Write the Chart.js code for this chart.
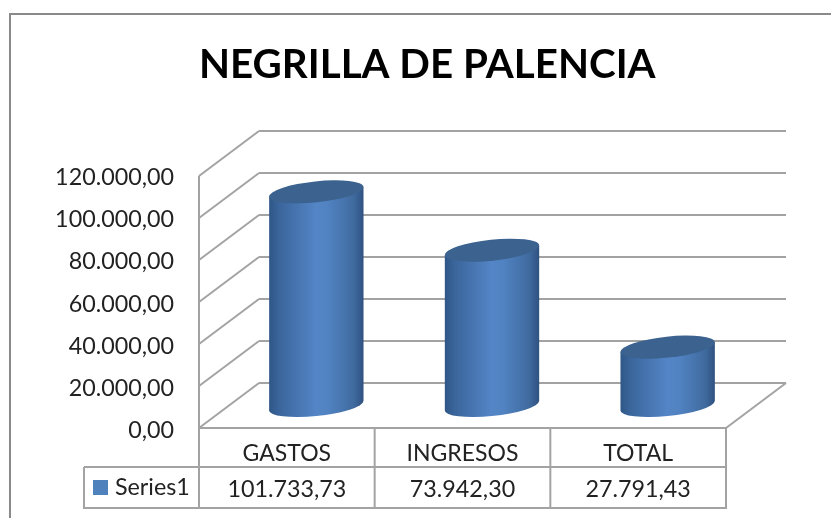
<!DOCTYPE html>
<html>
<head>
<meta charset="utf-8">
<title>Negrilla de Palencia</title>
<script src="https://cdn.jsdelivr.net/npm/chart.js@4"></script>
<style>
  body { margin: 0; background: #fff; }
  canvas { display: block; }
</style>
</head>
<body>
<canvas id="myChart" width="831" height="518"></canvas>
<script>
// data
const titleText = "NEGRILLA DE PALENCIA";
const seriesName = "Series1";
const categories = ["GASTOS", "INGRESOS", "TOTAL"];
const seriesValues = [101733.73, 73942.30, 27791.43];
const valueLabels = ["101.733,73", "73.942,30", "27.791,43"];
const yTickLabels = ["0,00", "20.000,00", "40.000,00", "60.000,00", "80.000,00", "100.000,00", "120.000,00"];

// look of the fake 3d box
const depthX = 60, depthY = 45;
const lineColor = "#a3a3a3";
const textColor = "#222222";
const textFont = "23.3px Lato";

function line(ctx, x1, y1, x2, y2) {
  ctx.beginPath();
  ctx.moveTo(x1, y1);
  ctx.lineTo(x2, y2);
  ctx.stroke();
}

// frame, back wall, side wall and floor
const wallsPlugin = {
  id: "walls",
  beforeDatasetsDraw(chart) {
    const ctx = chart.ctx, a = chart.chartArea, y = chart.scales.y;
    ctx.save();
    ctx.strokeStyle = "#8a8a8a";
    ctx.lineWidth = 2;
    line(ctx, 10, 14, 831, 14);
    line(ctx, 10, 13, 10, 518);

    ctx.strokeStyle = lineColor;
    y.ticks.forEach(t => {
      const py = y.getPixelForValue(t.value);
      line(ctx, a.left, py, a.left + depthX, py - depthY);
      line(ctx, a.left + depthX, py - depthY, a.right + depthX, py - depthY);
    });
    line(ctx, a.left, a.top, a.left, a.bottom);
    line(ctx, a.right, a.bottom, a.right + depthX, a.bottom - depthY);
    ctx.restore();
  }
};

// one cylinder per bar, placed half way into the depth
function drawCylinder(ctx, bar) {
  const cx = bar.x + depthX / 2 - 0.5;
  const top = bar.y - depthY / 2;
  const base = bar.base - depthY / 2;
  const rx = bar.width / 2, ry = 10.5, rot = -6 * Math.PI / 180;
  // angle where the tilted ellipse touches its left and right extremes
  const t0 = Math.atan2(-ry * Math.sin(rot), rx * Math.cos(rot));
  const ex = rx * Math.cos(t0) * Math.cos(rot) - ry * Math.sin(t0) * Math.sin(rot);
  const ey = rx * Math.cos(t0) * Math.sin(rot) + ry * Math.sin(t0) * Math.cos(rot);

  const g = ctx.createLinearGradient(cx - ex, 0, cx + ex, 0);
  g.addColorStop(0, "#2f5686");
  g.addColorStop(0.1, "#3a659b");
  g.addColorStop(0.5, "#5485c6");
  g.addColorStop(0.62, "#5183c2");
  g.addColorStop(0.9, "#3f6a9e");
  g.addColorStop(1, "#2f5180");

  ctx.beginPath();
  ctx.moveTo(cx + ex, top + ey);
  ctx.lineTo(cx + ex, base + ey);
  ctx.ellipse(cx, base, rx, ry, rot, t0, t0 + Math.PI);
  ctx.lineTo(cx - ex, top - ey);
  ctx.closePath();
  ctx.fillStyle = g;
  ctx.fill();

  ctx.beginPath();
  ctx.ellipse(cx, top, rx, ry, rot, 0, Math.PI * 2);
  ctx.fillStyle = "#3c628f";
  ctx.fill();
}

const cylinderPlugin = {
  id: "cylinders",
  afterDatasetsDraw(chart) {
    const ctx = chart.ctx;
    ctx.save();
    chart.getDatasetMeta(0).data.forEach(bar => drawCylinder(ctx, bar));
    ctx.restore();
  }
};

// data table under the chart
const tablePlugin = {
  id: "dataTable",
  afterDraw(chart) {
    const ctx = chart.ctx, a = chart.chartArea, x = chart.scales.x;
    const row1 = a.bottom + 39, row2 = a.bottom + 80, keyLeft = 84;
    const colW = (a.right - a.left) / categories.length;
    ctx.save();
    ctx.strokeStyle = lineColor;
    ctx.lineWidth = 2;
    line(ctx, a.left - 1, a.bottom, a.right + 1, a.bottom);
    line(ctx, keyLeft, row1, a.right, row1);
    line(ctx, keyLeft - 1, row2, a.right + 1, row2);
    line(ctx, keyLeft, row1, keyLeft, row2);
    for (let i = 0; i <= categories.length; i++) {
      line(ctx, a.left + i * colW, a.bottom, a.left + i * colW, row2);
    }

    ctx.font = textFont;
    ctx.fillStyle = textColor;
    ctx.textBaseline = "middle";
    ctx.textAlign = "center";
    valueLabels.forEach((label, i) => {
      ctx.fillText(label, x.getPixelForValue(i), row1 + 22);
    });
    ctx.textAlign = "left";
    ctx.fillText(seriesName, 115, row1 + 20);

    ctx.fillStyle = "#4f81bd";
    ctx.fillRect(93, row1 + 13, 15, 15);
    ctx.restore();
  }
};

new Chart("myChart", {
  type: "bar",
  data: {
    labels: categories,
    datasets: [{
      label: seriesName,
      data: seriesValues,
      backgroundColor: "transparent",
      categoryPercentage: 1,
      barPercentage: 0.54
    }]
  },
  options: {
    responsive: false,
    animation: false,
    layout: { padding: { left: 0, right: 105, top: 0, bottom: 0 } },
    plugins: {
      legend: { display: false },
      tooltip: { enabled: false },
      title: {
        display: true,
        text: titleText,
        fullSize: false,
        align: "start",
        color: "#000",
        font: { family: "Lato", size: 40.3, weight: "bold", lineHeight: 1.2 },
        padding: { top: 41, bottom: 86.6 }
      }
    },
    scales: {
      x: {
        grid: { display: false },
        border: { display: false },
        afterFit(s) { s.height = 90; },
        ticks: {
          color: textColor,
          font: { family: "Lato", size: 23 },
          padding: 4,
          maxRotation: 0,
          autoSkip: false
        }
      },
      y: {
        min: 0,
        max: 120000,
        grid: { display: false },
        border: { display: false },
        afterFit(s) { s.width = 199; },
        ticks: {
          stepSize: 20000,
          color: textColor,
          font: { family: "Lato", size: 23.3 },
          padding: 17,
          labelOffset: 2,
          callback: (v, i) => yTickLabels[i]
        }
      }
    }
  },
  plugins: [wallsPlugin, cylinderPlugin, tablePlugin]
});
</script>
</body>
</html>
